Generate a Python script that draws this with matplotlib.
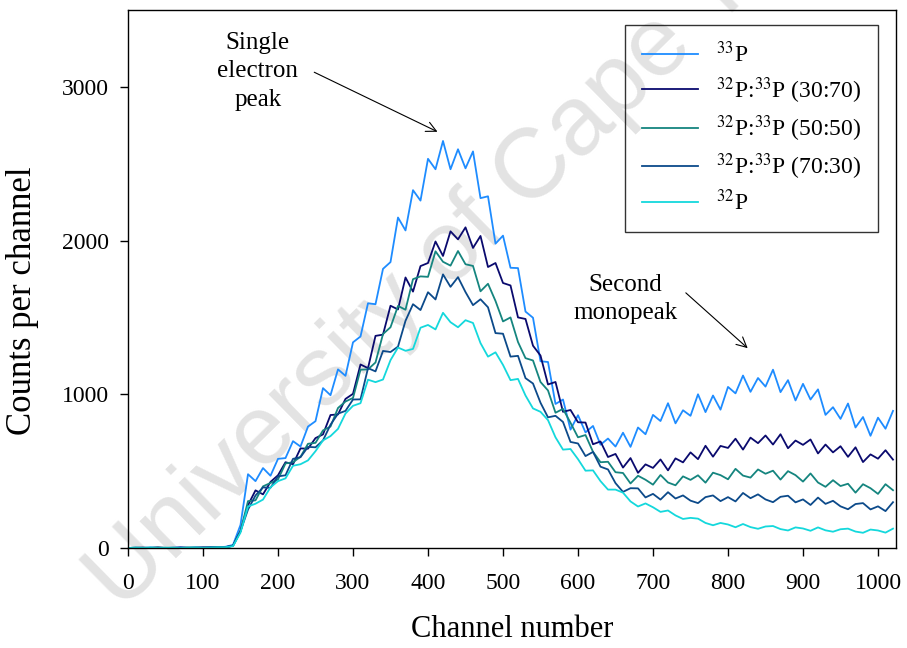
import matplotlib
matplotlib.use('Agg')
import matplotlib.pyplot as plt
import numpy as np

# channel numbers (every 10th channel)
channels = np.arange(0, 1030, 10)

# counts per channel
p33 = [0, 2, 0, 3, 1, 0, 2, 4, 1, 3, 2, 5, 4, 8, 20, 150,
       480, 435, 520, 470, 580, 585, 695, 660, 790, 825,
       1040, 994, 1162, 1120, 1338, 1376, 1592, 1586, 1816, 1860,
       2150, 2066, 2328, 2260, 2532, 2464, 2648, 2464, 2594, 2470,
       2580, 2276, 2288, 1980, 2032, 1823, 1821, 1538, 1498, 1215,
       1210, 937, 966, 770, 864, 752, 794, 672, 712, 660,
       750, 658, 784, 740, 866, 826, 942, 811, 896, 860,
       1000, 884, 992, 900, 1048, 1006, 1122, 1016, 1106, 1050,
       1160, 1014, 1092, 960, 1068, 966, 1032, 866, 916, 840,
       940, 784, 852, 730, 848, 776, 892]

p32_33_3070 = [0, 1, 3, 0, 2, 1, 0, 3, 2, 1, 4, 2, 3, 6, 15, 110,
               279, 375, 349, 430, 473, 558, 545, 648, 646, 715,
               739, 865, 869, 970, 1003, 1194, 1170, 1380, 1388, 1576,
               1552, 1760, 1668, 1834, 1854, 1994, 1900, 2060, 2008, 2086,
               1952, 2030, 1828, 1854, 1724, 1708, 1500, 1490, 1316, 1252,
               1064, 1080, 886, 898, 818, 816, 675, 693, 592, 612,
               523, 585, 489, 544, 521, 576, 505, 583, 557, 622,
               578, 665, 594, 664, 651, 711, 640, 718, 682, 732,
               673, 740, 649, 699, 671, 706, 615, 673, 622, 662,
               593, 655, 559, 609, 581, 636, 575]

p32_33_5050 = [0, 2, 1, 0, 3, 1, 2, 0, 3, 2, 1, 3, 5, 4, 15, 110,
               305, 310, 401, 423, 446, 550, 558, 593, 678, 684,
               765, 790, 911, 953, 976, 1160, 1162, 1207, 1392, 1436,
               1575, 1550, 1749, 1767, 1764, 1930, 1862, 1837, 1932, 1846,
               1835, 1670, 1719, 1607, 1474, 1500, 1340, 1235, 1220, 1080,
               1025, 880, 905, 815, 720, 735, 626, 558, 561, 493,
               488, 420, 470, 444, 412, 475, 426, 408, 466, 443,
               473, 425, 490, 474, 447, 515, 471, 458, 511, 483,
               503, 445, 500, 474, 432, 485, 426, 398, 441, 403,
               418, 360, 415, 389, 352, 415, 376]

p32_33_7030 = [0, 1, 0, 2, 3, 0, 1, 2, 0, 3, 2, 4, 3, 5, 15, 110,
               250, 342, 394, 392, 466, 473, 580, 591, 658, 655,
               700, 802, 874, 892, 966, 967, 1170, 1149, 1282, 1275,
               1310, 1478, 1586, 1548, 1664, 1617, 1780, 1699, 1762, 1665,
               1580, 1618, 1566, 1398, 1394, 1245, 1250, 1105, 1070, 945,
               850, 860, 820, 690, 680, 598, 625, 529, 511, 422,
               365, 389, 388, 329, 352, 315, 363, 322, 342, 308,
               292, 331, 342, 305, 331, 303, 358, 324, 349, 316,
               298, 333, 340, 297, 316, 280, 328, 287, 307, 271,
               252, 286, 292, 251, 271, 240, 298]

p32 = [0, 2, 1, 3, 0, 2, 1, 0, 2, 3, 1, 2, 4, 5, 12, 100,
       270, 288, 315, 395, 435, 453, 535, 545, 570, 630,
       700, 728, 775, 875, 925, 942, 1095, 1079, 1096, 1222,
       1304, 1283, 1295, 1433, 1451, 1422, 1530, 1469, 1436, 1482,
       1464, 1333, 1245, 1273, 1191, 1092, 1100, 992, 908, 886,
       832, 720, 640, 644, 578, 503, 505, 435, 380, 380,
       360, 303, 270, 290, 265, 235, 244, 212, 189, 196,
       191, 163, 148, 163, 153, 135, 156, 136, 125, 140,
       143, 123, 114, 134, 127, 112, 134, 115, 106, 122,
       126, 107, 99, 120, 114, 100, 126]

series = [p33, p32_33_3070, p32_33_5050, p32_33_7030, p32]
labels = [r'$^{33}$P', r'$^{32}$P:$^{33}$P (30:70)', r'$^{32}$P:$^{33}$P (50:50)',
          r'$^{32}$P:$^{33}$P (70:30)', r'$^{32}$P']
colors = ['#1e8cff', '#0a0a6e', '#15857f', '#0c4a8a', '#14d8dc']

plt.rcParams['font.family'] = 'Liberation Serif'
plt.rcParams['mathtext.fontset'] = 'stix'

fig = plt.figure(figsize=(9.07, 6.48), dpi=100)
ax = fig.add_axes([128/907, 1 - 548/648, 768/907, 538/648])
ax.patch.set_alpha(0)

# watermark, behind the curves
fig.text(482/907, 1 - 222/648, 'University of Cape Town', fontsize=71,
         family='Liberation Sans', color='#e3e3e3',
         rotation=44.5, ha='center', va='center', rotation_mode='anchor', zorder=-1)

for y, lab, c in zip(series, labels, colors):
    ax.plot(channels, y, color=c, lw=1.3, label=lab)

ax.set_xlim(0, 1024)
ax.set_ylim(0, 3500)
ax.set_xticks(range(0, 1001, 100))
ax.set_yticks([0, 1000, 2000, 3000])
ax.tick_params(direction='out', length=6, width=1, labelsize=17, top=False, right=False)
ax.tick_params(axis='x', pad=12)
ax.tick_params(axis='y', pad=8)
for s in ax.spines.values():
    s.set_linewidth(1)
ax.set_xlabel('Channel number', fontsize=22, labelpad=15)
ax.set_ylabel('Counts per channel', fontsize=25)
ax.yaxis.set_label_coords(-0.116, 0.46)

leg = ax.legend(loc='upper right', bbox_to_anchor=(0.9766, 0.972), borderaxespad=0,
                fontsize=17, fancybox=False, frameon=True, handlelength=2.4,
                handletextpad=0.75, labelspacing=0.33, borderpad=0.7, edgecolor='black')
leg.get_frame().set_linewidth(1)
leg.get_frame().set_facecolor('none')

# annotations
ax.text(173, 3100, 'Single\nelectron\npeak', fontsize=18, ha='center', va='center',
        linespacing=1.4)
ax.annotate('', xy=(416, 2700), xytext=(245, 3103),
            arrowprops=dict(arrowstyle='->', lw=0.8, color='black', mutation_scale=18))
ax.text(663, 1620, 'Second\nmonopeak', fontsize=18, ha='center', va='center',
        linespacing=1.3)
ax.annotate('', xy=(829, 1288), xytext=(741, 1672),
            arrowprops=dict(arrowstyle='->', lw=0.8, color='black', mutation_scale=18))

fig.savefig('out.png', dpi=100)
